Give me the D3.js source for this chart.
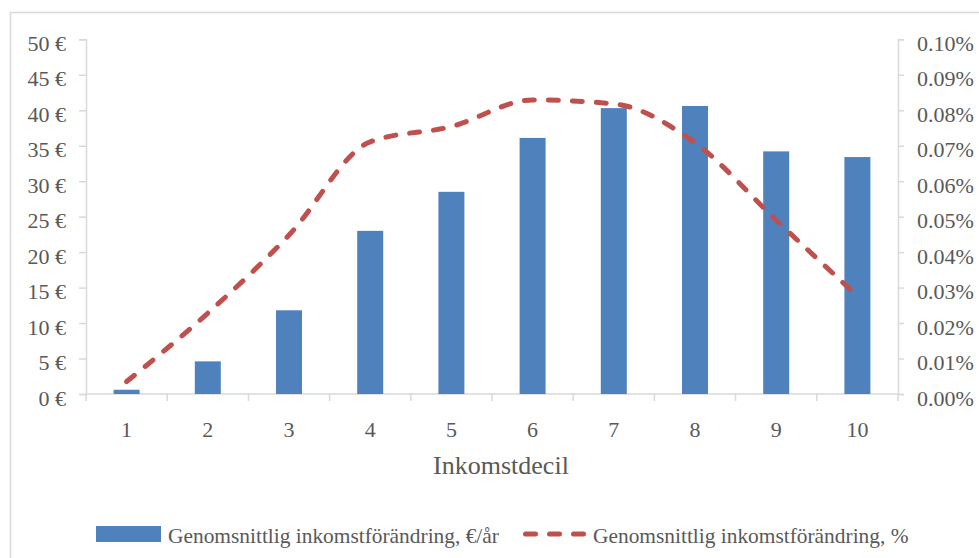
<!DOCTYPE html>
<html>
<head>
<meta charset="utf-8">
<script src="https://cdn.jsdelivr.net/npm/d3@7"></script>
<style>
  html, body { margin: 0; padding: 0; background: #fff; }
  svg { display: block; }
  text { font-family: "Liberation Serif", "Times New Roman", serif; fill: #595959; }
</style>
</head>
<body>
<svg id="chart" width="979" height="558"></svg>
<script>
// Income deciles
const deciles = ["1", "2", "3", "4", "5", "6", "7", "8", "9", "10"];
// Average income change, €/year (bars, left axis)
const euroChange = [0.6, 4.6, 11.8, 23.0, 28.5, 36.1, 40.3, 40.6, 34.2, 33.4];
// Average income change, in percent (dashed line, right axis)
const pctChange = [0.0035, 0.0228, 0.0448, 0.0711, 0.0754, 0.0829, 0.0818, 0.0708, 0.049, 0.0276];
// Axis ticks
const euroTicks = [0, 5, 10, 15, 20, 25, 30, 35, 40, 45, 50];
const pctTicks = [0, 0.01, 0.02, 0.03, 0.04, 0.05, 0.06, 0.07, 0.08, 0.09, 0.10];

const seriesNames = ["Genomsnittlig inkomstförändring, €/år", "Genomsnittlig inkomstförändring, %"];

const svg = d3.select("#chart");
const gridColor = "#d9d9d9";
const barColor = "#4f81bd";
const lineColor = "#c0504d";
const serif = "'Liberation Serif', 'Times New Roman', serif";

// outer frame
svg.append("rect")
  .attr("x", 10.5).attr("y", 12.5)
  .attr("width", 1000).attr("height", 600)
  .attr("fill", "none").attr("stroke", gridColor).attr("stroke-width", 1.5);

const plotLeft = 86, plotRight = 898, plotTop = 39.3, plotBottom = 394;

const x = d3.scaleBand().domain(deciles).range([plotLeft, plotRight]).paddingInner(0.68).paddingOuter(0.34);
const xTick = d3.scaleBand().domain(deciles).range([plotLeft, plotRight]);
const yL = d3.scaleLinear().domain([0, 50]).range([plotBottom, plotTop]);
const yR = d3.scaleLinear().domain([0, 0.10]).range([plotBottom, plotTop]);

// left axis
const axL = svg.append("g").attr("transform", `translate(${plotLeft},0)`)
  .call(d3.axisLeft(yL).tickValues(euroTicks).tickSize(7).tickPadding(13).tickFormat(d => d + " €"));
axL.attr("font-family", serif);
axL.select(".domain").attr("stroke", gridColor).attr("stroke-width", 1.5);
axL.selectAll(".tick line").attr("stroke", gridColor).attr("stroke-width", 1.5);
axL.selectAll(".tick text").attr("font-size", 22).attr("dy", "0.5em").attr("fill", "#595959");

// right axis
const axR = svg.append("g").attr("transform", `translate(${plotRight},0)`)
  .call(d3.axisRight(yR).tickValues(pctTicks).tickSize(6).tickPadding(13).tickFormat(d => d.toFixed(2) + "%"));
axR.attr("font-family", serif);
axR.select(".domain").attr("stroke", gridColor).attr("stroke-width", 1.5);
axR.selectAll(".tick line").attr("stroke", gridColor).attr("stroke-width", 1.5);
axR.selectAll(".tick text").attr("font-size", 22).attr("dy", "0.5em").attr("fill", "#595959");

// bottom axis: baseline, category ticks on band edges
const axB = svg.append("g").attr("transform", `translate(0,${plotBottom})`);
axB.append("line").attr("x1", plotLeft).attr("x2", plotRight).attr("y1", 0).attr("y2", 0)
  .attr("stroke", gridColor).attr("stroke-width", 1.5);
const edges = deciles.map(d => xTick(d)).concat([plotRight]);
axB.selectAll("line.edge").data(edges).join("line").attr("class", "edge")
  .attr("x1", d => d).attr("x2", d => d).attr("y1", 0).attr("y2", 7)
  .attr("stroke", gridColor).attr("stroke-width", 1.5);
axB.selectAll("text.cat").data(deciles).join("text").attr("class", "cat")
  .attr("x", d => xTick(d) + xTick.bandwidth() / 2).attr("y", 43)
  .attr("text-anchor", "middle").attr("font-size", 22).text(d => d);

// axis title
svg.append("text").attr("x", 501).attr("y", 474).attr("text-anchor", "middle")
  .attr("font-size", 26).text("Inkomstdecil");

// bars
svg.append("g").selectAll("rect").data(euroChange).join("rect")
  .attr("x", (d, i) => x(deciles[i]))
  .attr("width", x.bandwidth())
  .attr("y", d => yL(d))
  .attr("height", d => plotBottom - yL(d))
  .attr("fill", barColor);

// smoothed dashed line
const line = d3.line()
  .x((d, i) => xTick(deciles[i]) + xTick.bandwidth() / 2)
  .y(d => yR(d))
  .curve(d3.curveMonotoneX);
svg.append("path").datum(pctChange)
  .attr("d", line)
  .attr("fill", "none")
  .attr("stroke", lineColor)
  .attr("stroke-width", 5)
  .attr("stroke-linecap", "round")
  .attr("stroke-dasharray", "10,14");

// legend
const lg = svg.append("g");
lg.append("rect").attr("x", 96).attr("y", 526).attr("width", 65).attr("height", 16).attr("fill", barColor);
lg.append("text").attr("x", 168).attr("y", 543).attr("font-size", 21.4).text(seriesNames[0]);
lg.append("line").attr("x1", 525.5).attr("x2", 584).attr("y1", 534).attr("y2", 534)
  .attr("stroke", lineColor).attr("stroke-width", 5).attr("stroke-linecap", "round")
  .attr("stroke-dasharray", "10,14");
lg.append("text").attr("x", 593).attr("y", 543).attr("font-size", 21.4).text(seriesNames[1]);
</script>
</body>
</html>
